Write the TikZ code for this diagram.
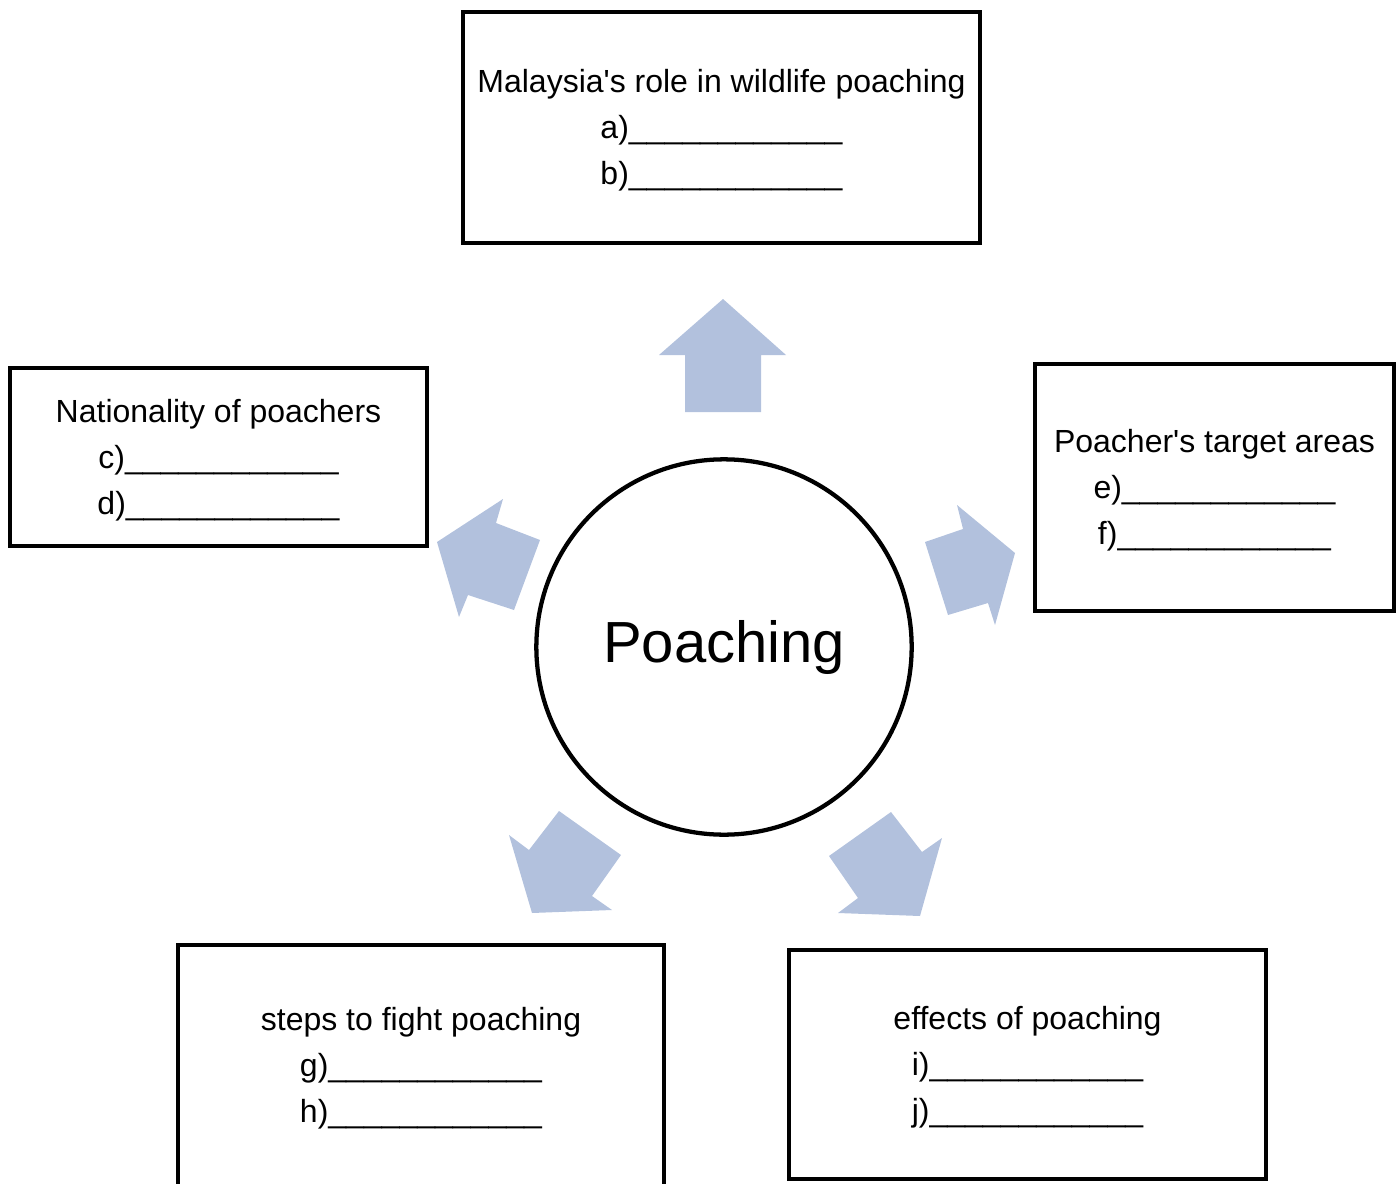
\documentclass[tikz,border=0pt]{standalone}
\usepackage{fontspec}
\setmainfont{Liberation Sans}
\newcommand{\answerline}{\_\_\_\_\_\_\_\_\_\_\_\_}
\definecolor{arrowblue}{RGB}{178,193,221}
\tikzset{
  box/.style={draw, line width=3.2pt},
  boxtext/.style={align=center, font=\fontsize{24}{34.5}\selectfont},
  blockarrow/.style={fill=arrowblue}
}
\begin{document}
\begin{tikzpicture}[x=0.75pt,y=-0.75pt]
            \useasboundingbox (0,0) rectangle (1399,1184);
            \clip (0,0) rectangle (1399,1184);
            % centre
            \node[draw, circle, line width=3.2pt, minimum size=281.5pt, font=\fontsize{43.5}{50}\selectfont] (hub) at (724,647) {Poaching};
            % boxes
            \draw[box] (463,12) rectangle (980,243);
            \node[boxtext] (role) at (721.5,130.5) {Malaysia\textquotesingle s role in wildlife poaching\\a)\answerline\\b)\answerline};
            \draw[box] (10,368) rectangle (427,546);
            \node[boxtext] (nation) at (218.5,460.5) {Nationality of poachers\\c)\answerline\\d)\answerline};
            \draw[box] (1035,364) rectangle (1394,611);
            \node[boxtext] (target) at (1214.5,490.5) {Poacher\textquotesingle s target areas\\e)\answerline\\f)\answerline};
            \draw[box] (178,945) rectangle (664,1195);
            \node[boxtext] (steps) at (421,1068) {steps to fight poaching\\g)\answerline\\h)\answerline};
            \draw[box] (789,950) rectangle (1266,1179);
            \node[boxtext] (effects) at (1027.5,1067.5) {effects of poaching\\i)\answerline\\j)\answerline};
            % arrows
            \fill[blockarrow] (723,299) -- (786,355) -- (761,355) -- (761,412) -- (685,412) -- (685,355) -- (659,355) -- cycle;
            \fill[blockarrow] (957,505) -- (1015,553) -- (995,625) -- (988,603) -- (948,615) -- (925,542) -- (963,529) -- cycle;
            \fill[blockarrow] (503,499) -- (496,523) -- (540,540) -- (514,610) -- (468,595) -- (459,617) -- (437,542) -- cycle;
            \fill[blockarrow] (559,811) -- (621,855) -- (592,896) -- (612,910) -- (532,913) -- (509,835) -- (529,850) -- cycle;
            \fill[blockarrow] (891,812) -- (922,852) -- (942,838) -- (920,916) -- (838,913) -- (858,898) -- (829,856) -- cycle;
        \end{tikzpicture}
\end{document}
